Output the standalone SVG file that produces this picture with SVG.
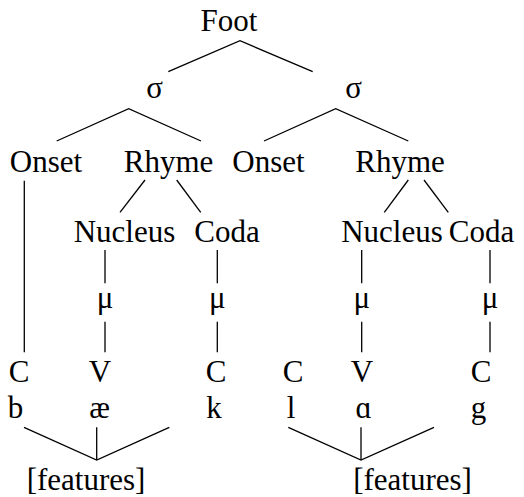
<svg xmlns="http://www.w3.org/2000/svg" width="524" height="497" viewBox="0 0 524 497">
  <style>
    text { font-family: "Liberation Serif", "Times New Roman", serif; font-size: 31px; fill: #000; text-anchor: middle; }
    .edge { stroke: #000; stroke-width: 1.3; fill: none; stroke-linecap: butt; }
  </style>
  <rect width="524" height="497" fill="#fff"/>

  <g id="connectors">
    <!-- Foot to syllables -->
    <polyline class="edge" points="168.3,71.7 240,40.7 312.7,71.7"/>
    <!-- syllables to onset/rhyme -->
    <polyline class="edge" points="56.7,141 128.7,108.7 201,141"/>
    <polyline class="edge" points="264,141 335.7,108.7 408.3,141"/>
    <!-- rhymes to nucleus/coda -->
    <line class="edge" x1="145" y1="180" x2="120" y2="212.3"/>
    <line class="edge" x1="176.7" y1="180" x2="200.7" y2="212.3"/>
    <line class="edge" x1="408.3" y1="180" x2="384.3" y2="212.3"/>
    <line class="edge" x1="424" y1="180" x2="448.3" y2="212.3"/>
    <!-- onset straight down to C -->
    <line class="edge" x1="24.3" y1="180.7" x2="24.3" y2="352.3"/>
    <!-- nucleus/coda to mora -->
    <line class="edge" x1="105" y1="250" x2="105" y2="283.3"/>
    <line class="edge" x1="217.3" y1="250" x2="217.3" y2="283.3"/>
    <line class="edge" x1="361.7" y1="250" x2="361.7" y2="283.3"/>
    <line class="edge" x1="490" y1="250" x2="490" y2="283.3"/>
    <!-- mora to skeletal slots -->
    <line class="edge" x1="105" y1="321.7" x2="105" y2="352.3"/>
    <line class="edge" x1="217.3" y1="321.7" x2="217.3" y2="352.3"/>
    <line class="edge" x1="361.7" y1="321.7" x2="361.7" y2="352.3"/>
    <line class="edge" x1="490" y1="321.7" x2="490" y2="352.3"/>
    <!-- segments to features -->
    <polyline class="edge" points="24,427.3 96.7,460 169.3,427.3"/>
    <line class="edge" x1="96.7" y1="427.3" x2="96.7" y2="460"/>
    <polyline class="edge" points="288.3,427.3 361,460 434,427.3"/>
    <line class="edge" x1="361" y1="427.3" x2="361" y2="460"/>
  </g>

  <g id="foot"><text x="229" y="31">Foot</text></g>
  <g id="syllable-1"><text x="154.5" y="98">σ</text></g>
  <g id="syllable-2"><text x="353.5" y="98">σ</text></g>

  <g id="onset-1"><text x="46" y="171.7">Onset</text></g>
  <g id="rhyme-1"><text x="168.5" y="171.7">Rhyme</text></g>
  <g id="onset-2"><text x="268.5" y="171.7">Onset</text></g>
  <g id="rhyme-2"><text x="400" y="171.7">Rhyme</text></g>

  <g id="nucleus-1"><text x="124.5" y="241.7">Nucleus</text></g>
  <g id="coda-1"><text x="227" y="241.7">Coda</text></g>
  <g id="nucleus-2"><text x="392" y="241.7">Nucleus</text></g>
  <g id="coda-2"><text x="481.5" y="241.7">Coda</text></g>

  <g id="mora-1"><text x="105" y="308">μ</text></g>
  <g id="mora-2"><text x="217.3" y="308">μ</text></g>
  <g id="mora-3"><text x="361.7" y="308">μ</text></g>
  <g id="mora-4"><text x="490" y="308">μ</text></g>

  <g id="slot-1"><text x="19" y="381.7">C</text></g>
  <g id="slot-2"><text x="100" y="381.7">V</text></g>
  <g id="slot-3"><text x="216" y="381.7">C</text></g>
  <g id="slot-4"><text x="293" y="381.7">C</text></g>
  <g id="slot-5"><text x="362" y="381.7">V</text></g>
  <g id="slot-6"><text x="481" y="381.7">C</text></g>

  <g id="seg-b"><text x="15.5" y="418">b</text></g>
  <g id="seg-ae"><text x="99.5" y="418">æ</text></g>
  <g id="seg-k"><text x="214" y="418">k</text></g>
  <g id="seg-l"><text x="291" y="418">l</text></g>
  <g id="seg-a"><text x="363.5" y="418">ɑ</text></g>
  <g id="seg-g"><text x="478.5" y="418">g</text></g>

  <g id="features-1"><text x="86" y="490">[features]</text></g>
  <g id="features-2"><text x="412.5" y="490">[features]</text></g>
</svg>
